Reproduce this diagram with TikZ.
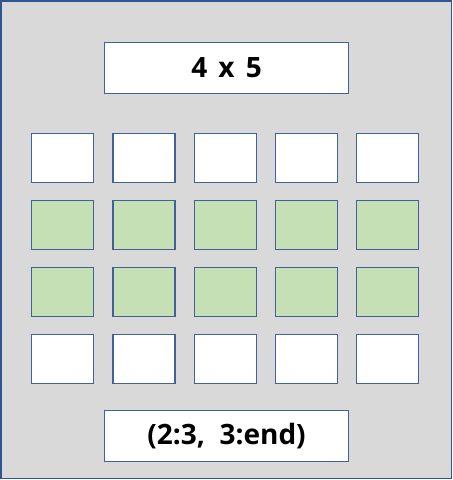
\documentclass[tikz,border=0pt]{standalone}
\usepackage{fontspec}
\setmainfont{Open Sans}
\usepackage{xcolor}
\usetikzlibrary{positioning}

\definecolor{bgGray}{HTML}{D9D9D9}
\definecolor{frameBlue}{HTML}{2F5597}
\definecolor{cellBlue}{HTML}{41609C}
\definecolor{cellGreen}{HTML}{C5E0B4}

\begin{document}
\begin{tikzpicture}[x=1pt, y=-1pt,
        cell/.style={draw=cellBlue, line width=1.2pt, inner sep=0pt, anchor=north west,
            minimum width=62pt, minimum height=49pt},
        textbox/.style={cell, fill=white, minimum width=244pt, minimum height=51pt,
            font=\bfseries\fontsize{28}{32}\selectfont}]
    \useasboundingbox (0, 0) rectangle (453, 480);
    \draw[frameBlue, fill=bgGray, line width=1.5pt] (0.75, 0.75) rectangle (451.5, 478.5);

    \node[textbox] (size) at (104, 42) {4\hspace{4pt} x\hspace{4pt} 5};

    % index grid, rows 2 and 3 picked
    \foreach \r/\f in {1/white, 2/cellGreen, 3/cellGreen, 4/white} {
        \foreach \c in {1,...,5} {
            \node[cell, fill=\f] (cell-\r-\c) at ({31 + 81.3*(\c-1)}, {132.5 + 67*(\r-1)}) {};
        }
    }

    \node[textbox] (range) at (104, 409.5) {(2:3,\ \ 3:end)};
\end{tikzpicture}
\end{document}
